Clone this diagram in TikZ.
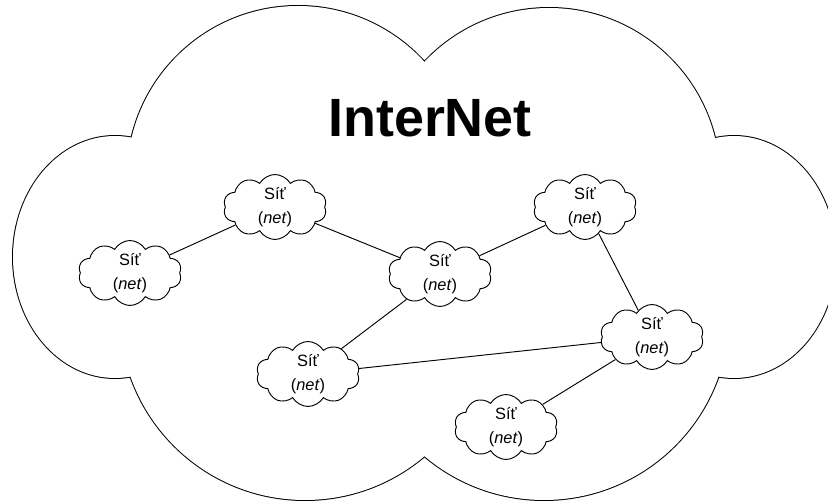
\documentclass[tikz,border=0pt]{standalone}
\usepackage{fontspec}
\setmainfont{Liberation Sans}
\usetikzlibrary{shapes.symbols}

\tikzset{
  net/.style={cloud, cloud puffs=10, cloud puff arc=120, cloud ignores aspect,
    draw, line width=0.8pt, fill=white, minimum width=3.1cm, minimum height=1.95cm,
    inner sep=0pt, align=center, font=\fontsize{14}{20}\selectfont},
  link/.style={line width=0.8pt},
}
% lobes of the big cloud
\newcommand{\bigcloudlobes}{(115,246) ellipse [x radius=102, y radius=121]
  (298,326) circle [radius=171] (549,324) circle [radius=171]
  (734,246) ellipse [x radius=102, y radius=121]
  (544,188) circle [radius=185] (305,188) circle [radius=185]}

\begin{document}
\begin{tikzpicture}[x=0.03cm, y=0.03cm]
    \useasboundingbox (0,0) rectangle (828,503);

    % Big cloud: thick outlines of the lobes, then white inside
    \begin{scope}
        \clip (0,0) rectangle (828,503);
        \draw[line width=1.7pt] \bigcloudlobes;
        \fill[white] \bigcloudlobes;
        \fill[white] (140,132) -- (140,358) -- (424,432) -- (708,358) -- (708,132) -- (424,60) -- cycle;
    \end{scope}

    \node[anchor=base, font=\fontsize{46}{50}\selectfont\bfseries] (title) at (430,366) {InterNet};

    % Networks
    \node[net] (netW)  at (130,230) {Síť\\(\textit{net})};
    \node[net] (netNW) at (275,296) {Síť\\(\textit{net})};
    \node[net] (netC)  at (440,229) {Síť\\(\textit{net})};
    \node[net] (netNE) at (585,296) {Síť\\(\textit{net})};
    \node[net] (netE)  at (652,166) {Síť\\(\textit{net})};
    \node[net] (netS)  at (506,76)  {Síť\\(\textit{net})};
    \node[net] (netSW) at (308,129) {Síť\\(\textit{net})};

    % Links
    \draw[link] (netW) -- (netNW);
    \draw[link] (netNW) -- (netC);
    \draw[link] (netC) -- (netNE);
    \draw[link] (netNE) -- (netE);
    \draw[link] (netC) -- (netSW);
    \draw[link] (netSW) -- (netE);
    \draw[link] (netE) -- (netS);
\end{tikzpicture}
\end{document}
